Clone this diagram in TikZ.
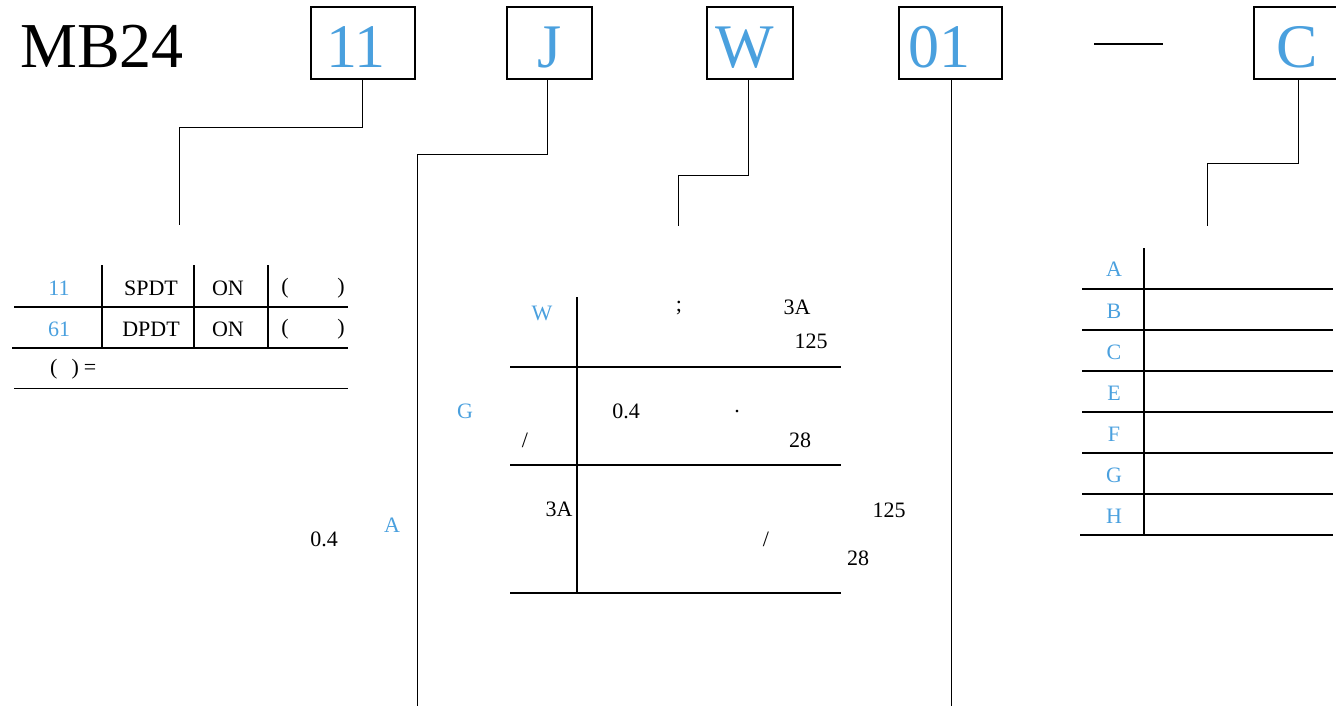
\documentclass[tikz,border=0pt]{standalone}
\usepackage{fontspec}
\setmainfont{Liberation Serif}
\definecolor{codeblue}{RGB}{74,160,222}
\begin{document}
\begin{tikzpicture}[x=1pt,y=-1pt,
  codebox/.style={draw,line width=2pt,minimum width=#1,minimum height=72pt,inner sep=0pt},
  boxtxt/.style={anchor=base,inner sep=0pt,text=codeblue,font=\fontsize{62}{62}\selectfont},
  big/.style={font=\fontsize{64}{64}\selectfont,inner sep=0pt},
  txt/.style={font=\fontsize{22}{22}\selectfont,inner sep=0pt},
  btxt/.style={txt,text=codeblue},
  conn/.style={line width=1pt},
  rule/.style={line width=1.5pt}]
\useasboundingbox (0,0) rectangle (1336,706);
% header
\node[big] (mb) at (102,46) {MB24};
\node[codebox=104pt] (b11) at (363,43) {};
\node[codebox=85pt] (bJ) at (549.5,43) {};
\node[codebox=86pt] (bW) at (750,43) {};
\node[codebox=103pt] (b01) at (950.5,43) {};
\node[codebox=84pt] (bC) at (1296,43) {};
\node[boxtxt] (t11) at (356,68) {11};
\node[boxtxt] (tJ) at (549.5,68) {J};
\node[boxtxt] (tW) at (745,68) {W};
\node[boxtxt] (t01) at (939,68) {01};
\node[boxtxt] (tC) at (1297,68) {C};
\coordinate (d1) at (1094,44);
\coordinate (d2) at (1163,44);
\draw[line width=2pt] (d1) -- (d2);
% connectors
\coordinate (c11) at (179,225);
\coordinate (cJ) at (417,706);
\coordinate (cW) at (678,226);
\coordinate (c01) at (951,706);
\coordinate (cC) at (1207,226);
\draw[conn] (b11.south -| 362,0) |- (179,128) -- (c11);
\draw[conn] (bJ.south -| 547,0) |- (417,155) -- (cJ);
\draw[conn] (bW.south -| 748,0) |- (678,175) -- (cW);
\draw[conn] (b01.south -| 951,0) -- (c01);
\draw[conn] (bC.south -| 1298,0) |- (1207,164) -- (cC);
% left table
\coordinate (lt1) at (102,265); \coordinate (lb1) at (102,348);
\coordinate (lt2) at (194,265); \coordinate (lb2) at (194,348);
\coordinate (lt3) at (268,265); \coordinate (lb3) at (268,348);
\draw[rule] (lt1) -- (lb1);
\draw[rule] (lt2) -- (lb2);
\draw[rule] (lt3) -- (lb3);
\coordinate (lh1a) at (14,307); \coordinate (lh1b) at (348,307);
\coordinate (lh2a) at (12,348); \coordinate (lh2b) at (348,348);
\coordinate (lh3a) at (14,388); \coordinate (lh3b) at (348,388);
\draw[rule] (lh1a) -- (lh1b);
\draw[rule] (lh2a) -- (lh2b);
\draw[line width=1pt] (lh3a) -- (lh3b);
\node[btxt] (r1a) at (59,288) {11};
\node[txt] (r1b) at (151,288) {SPDT};
\node[txt] (r1c) at (228,288) {ON};
\node[txt] (r1d) at (285,288) {(};
\node[txt] (r1e) at (341,288) {)};
\node[btxt] (r2a) at (59,329) {61};
\node[txt] (r2b) at (151,329) {DPDT};
\node[txt] (r2c) at (228,329) {ON};
\node[txt] (r2d) at (285,329) {(};
\node[txt] (r2e) at (341,329) {)};
\node[txt,anchor=west] (r3) at (50,369) {(\hspace{14pt})\hspace{5pt}=};
% middle table
\coordinate (mv1) at (577,297); \coordinate (mv2) at (577,593);
\draw[rule] (mv1) -- (mv2);
\coordinate (mh1a) at (510,367); \coordinate (mh1b) at (841,367);
\coordinate (mh2a) at (510,465); \coordinate (mh2b) at (841,465);
\coordinate (mh3a) at (510,593); \coordinate (mh3b) at (841,593);
\draw[rule] (mh1a) -- (mh1b);
\draw[rule] (mh2a) -- (mh2b);
\draw[rule] (mh3a) -- (mh3b);
\node[btxt] (mW) at (542,313) {W};
\node[txt] (m1) at (679,308) {;};
\node[txt] (m2) at (797,307) {3A};
\node[txt] (m3) at (811,341) {125};
\node[btxt] (mG) at (465,411) {G};
\node[txt] (m4) at (626,411) {0.4};
\node[txt] (m5) at (737,412) {.};
\node[txt] (m6) at (525,440) {/};
\node[txt] (m7) at (800,440) {28};
\node[txt] (m8) at (559,509) {3A};
\node[txt] (m9) at (889,510) {125};
\node[txt] (m10) at (766,539) {/};
\node[txt] (m11) at (858,558) {28};
\node[txt] (m12) at (324,539) {0.4};
\node[btxt] (mA) at (392,525) {A};
% right table
\coordinate (rv1) at (1144,248); \coordinate (rv2) at (1144,535);
\draw[rule] (rv1) -- (rv2);
\foreach \yy in {289,330,371,412,453,494} {
  \draw[rule] (1082,\yy) -- (1333,\yy);
}
\coordinate (rba) at (1080,535); \coordinate (rbb) at (1333,535);
\draw[rule] (rba) -- (rbb);
\node[btxt] (kA) at (1114,269) {A};
\node[btxt] (kB) at (1114,311) {B};
\node[btxt] (kC) at (1114,352) {C};
\node[btxt] (kE) at (1114,393) {E};
\node[btxt] (kF) at (1114,434) {F};
\node[btxt] (kG) at (1114,475) {G};
\node[btxt] (kH) at (1114,516) {H};
\end{tikzpicture}
\end{document}
